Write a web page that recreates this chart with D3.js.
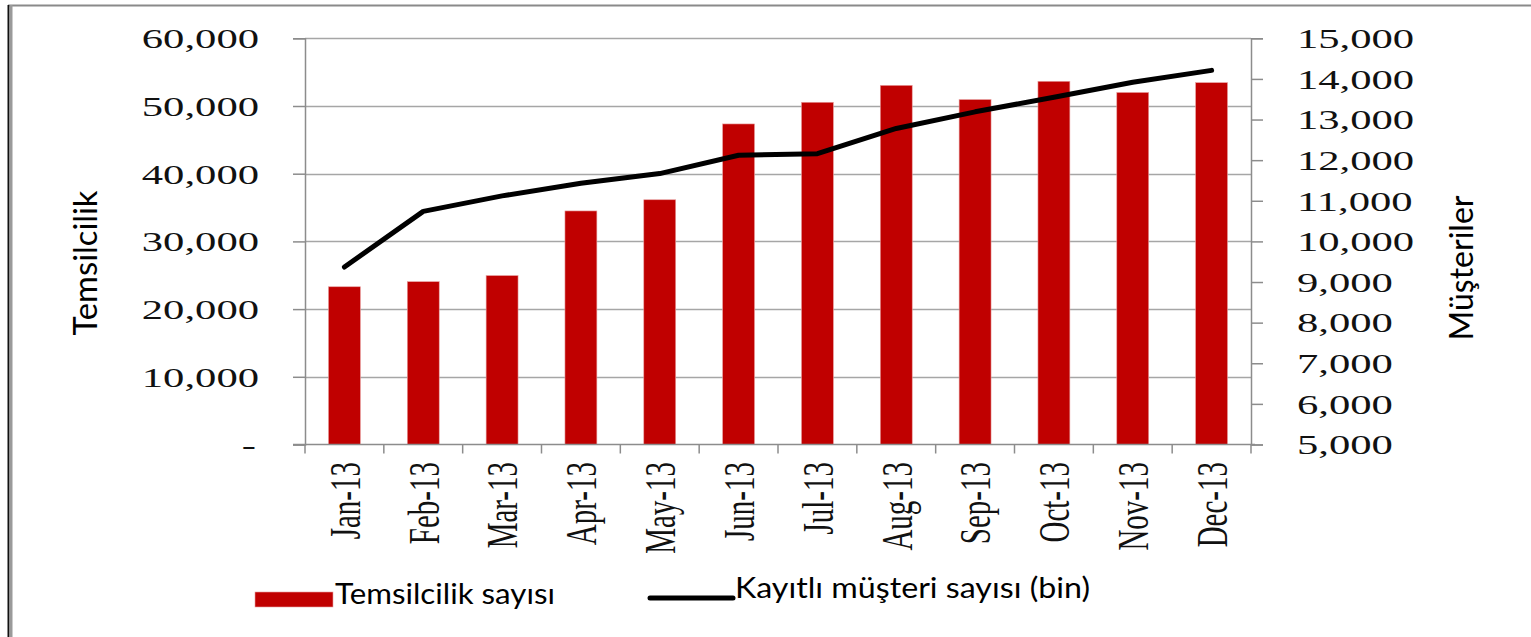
<!DOCTYPE html>
<html><head><meta charset="utf-8">
<script src="https://cdn.jsdelivr.net/npm/d3@7"></script>
<style>html,body{margin:0;padding:0;background:#fff;} svg{display:block;}</style>
</head><body>
<script>
const months = ["Jan-13","Feb-13","Mar-13","Apr-13","May-13","Jun-13","Jul-13","Aug-13","Sep-13","Oct-13","Nov-13","Dec-13"];
const temsilcilik = [23300, 24050, 24950, 34500, 36150, 47350, 50550, 53050, 50950, 53650, 52000, 53450];
const musteri = [9370, 10740, 11120, 11430, 11670, 12120, 12160, 12780, 13190, 13550, 13920, 14210];
const leftTicks = [0, 10000, 20000, 30000, 40000, 50000, 60000];
const rightTicks = [5000, 6000, 7000, 8000, 9000, 10000, 11000, 12000, 13000, 14000, 15000];
const seriesNames = ["Temsilcilik sayısı", "Kayıtlı müşteri sayısı (bin)"];
const axisTitles = ["Temsilcilik", "Müşteriler"];

const W = 1531, H = 637;
const m = {left: 305, right: 1251, top: 38.3, bottom: 444.5};
const sx = 1.55; // horizontal stretch of the source picture

const svg = d3.select("body").append("svg").attr("width", W).attr("height", H);

// frame
svg.append("line").attr("x1", 8).attr("x2", W).attr("y1", 5.5).attr("y2", 5.5).attr("stroke", "#8a8a8a").attr("stroke-width", 2);
svg.append("line").attr("x1", 8.5).attr("x2", 8.5).attr("y1", 5).attr("y2", H).attr("stroke", "#111").attr("stroke-width", 2);
svg.append("line").attr("x1", 11).attr("x2", 11).attr("y1", 5).attr("y2", H).attr("stroke", "#9a9a9a").attr("stroke-width", 3);

const x = d3.scaleBand().domain(months).range([m.left, m.right]).paddingInner(0.595).paddingOuter(0.2975);
const xEdge = d3.scaleLinear().domain([0, months.length]).range([m.left, m.right]);
const yL = d3.scaleLinear().domain([0, 60000]).range([m.bottom, m.top]);
const yR = d3.scaleLinear().domain([5000, 15000]).range([m.bottom, m.top]);

// gridlines
svg.append("g").selectAll("line").data(leftTicks.filter(d => d > 0)).join("line")
  .attr("x1", m.left).attr("x2", m.right)
  .attr("y1", d => Math.round(yL(d)) + 0.5).attr("y2", d => Math.round(yL(d)) + 0.5)
  .attr("stroke", "#a6a6a6").attr("stroke-width", 1.5);

// bars
svg.append("g").selectAll("rect").data(temsilcilik).join("rect")
  .attr("x", (d, i) => x(months[i])).attr("width", x.bandwidth())
  .attr("y", d => yL(d)).attr("height", d => m.bottom - yL(d))
  .attr("fill", "#c00000").attr("stroke", "#e8a0a0").attr("stroke-width", 0.6);

// axes
const fmt = d => d === 0 ? "-" : d3.format(",")(d);
const gL = svg.append("g").attr("transform", `translate(${m.left},0)`)
  .call(d3.axisLeft(yL).tickValues(leftTicks).tickFormat(fmt).tickSize(12).tickPadding(0));
gL.selectAll("text").attr("x", d => (d === 0 ? -49 : -46) / sx).attr("dy", "0.34em")
  .attr("transform", `scale(${sx},1)`).attr("font-family", "'Liberation Serif', serif")
  .attr("font-size", 27.5).attr("fill", "#111").attr("text-anchor", "end");

const gR = svg.append("g").attr("transform", `translate(${m.right},0)`)
  .call(d3.axisRight(yR).tickValues(rightTicks).tickFormat(d3.format(",")).tickSize(12).tickPadding(0));
gR.selectAll("text").attr("x", 46 / sx).attr("dy", "0.34em")
  .attr("transform", `scale(${sx},1)`).attr("font-family", "'Liberation Serif', serif")
  .attr("font-size", 27.5).attr("fill", "#111").attr("text-anchor", "start");

// x axis line + ticks at band edges
const gX = svg.append("g");
gX.append("line").attr("x1", m.left - 12).attr("x2", m.right + 4).attr("y1", m.bottom).attr("y2", m.bottom)
  .attr("stroke", "#8c8c8c").attr("stroke-width", 1.5);
gX.selectAll("line.t").data(d3.range(months.length + 1)).join("line").attr("class", "t")
  .attr("x1", i => xEdge(i)).attr("x2", i => xEdge(i)).attr("y1", m.bottom).attr("y2", m.bottom + 9)
  .attr("stroke", "#8c8c8c").attr("stroke-width", 1.5);
gX.selectAll("text").data(months).join("text")
  .attr("transform", d => `translate(${x(d) + x.bandwidth() / 2},462) scale(${sx},1) rotate(-90)`)
  .attr("text-anchor", "end").attr("dy", "0.34em")
  .attr("font-family", "'Liberation Serif', serif").attr("font-size", 29).attr("fill", "#111")
  .text(d => d);

[gL, gR].forEach(g => {
  g.select(".domain").attr("stroke", "#8c8c8c").attr("stroke-width", 1.5);
  g.selectAll(".tick line").attr("stroke", "#8c8c8c").attr("stroke-width", 1.5);
});

// line
const line = d3.line().x((d, i) => x(months[i]) + x.bandwidth() / 2).y(d => yR(d));
svg.append("path").datum(musteri).attr("d", line)
  .attr("fill", "none").attr("stroke", "#000").attr("stroke-width", 5)
  .attr("stroke-linejoin", "round").attr("stroke-linecap", "round");

// axis titles
const sans = "Lato, 'Noto Sans', sans-serif";
svg.append("text").attr("transform", "translate(97,263) rotate(-90)").attr("text-anchor", "middle")
  .attr("font-family", sans).attr("font-size", 32).attr("fill", "#000")
  .attr("textLength", 145).attr("lengthAdjust", "spacingAndGlyphs").text(axisTitles[0]);
svg.append("text").attr("transform", "translate(1473,268) rotate(-90)").attr("text-anchor", "middle")
  .attr("font-family", sans).attr("font-size", 32).attr("fill", "#000")
  .attr("textLength", 145).attr("lengthAdjust", "spacingAndGlyphs").text(axisTitles[1]);

// legend
svg.append("rect").attr("x", 255).attr("y", 592).attr("width", 78).attr("height", 15)
  .attr("fill", "#c00000").attr("stroke", "#e8a0a0").attr("stroke-width", 0.6);
svg.append("text").attr("x", 335).attr("y", 604).attr("font-family", sans).attr("font-size", 29)
  .attr("textLength", 220).attr("lengthAdjust", "spacingAndGlyphs").text(seriesNames[0]);
svg.append("line").attr("x1", 650).attr("x2", 733).attr("y1", 598).attr("y2", 598)
  .attr("stroke", "#000").attr("stroke-width", 5).attr("stroke-linecap", "round");
svg.append("text").attr("x", 735).attr("y", 598).attr("font-family", sans).attr("font-size", 29)
  .attr("textLength", 355).attr("lengthAdjust", "spacingAndGlyphs").text(seriesNames[1]);
</script>
</body></html>
